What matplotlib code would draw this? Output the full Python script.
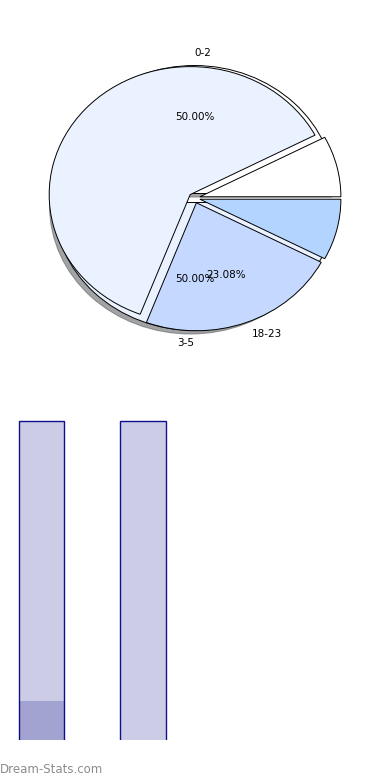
import matplotlib
matplotlib.use("Agg")
import matplotlib.pyplot as plt

# underlying two-slice pie
base_labels = ["0-2", "3-5"]
base_values = [50, 50]
base_colors = ["#FFFFFF", "#EAF2FF"]

# exploded slices drawn on top
slice_labels = ["", "", "18-23", ""]
slice_values = [1, 8, 3, 1]
slice_colors = ["#FFFFFF", "#EAF2FF", "#C5D8FF", "#B3D4FF"]

# bars
bar_pos = [0, 1]
bar_values = [8, 8]
bar_dark = [1, 0]

W, H = 390, 780
fig = plt.figure(figsize=(W / 100, H / 100), dpi=100)

# pie axes, not forced round
cx, cy = 194.4, H - 198
rx, ry = 141, 128
L = 1.35
ax = fig.add_axes([(cx - L * rx) / W, (cy - L * ry) / H, 2 * L * rx / W, 2 * L * ry / H])

edge = dict(edgecolor="black", linewidth=0.7)
txt = dict(fontsize=7.5)
_, base_texts, _ = ax.pie(base_values, labels=base_labels, colors=base_colors,
                          explode=[0.035, 0.035], autopct="%.2f%%", shadow=True,
                          startangle=0, wedgeprops=edge, textprops=txt)
# labels straight above/below the centre hang off it like the reference
base_texts[0].set_ha("left")
base_texts[1].set_ha("right")

_, _, autos = ax.pie(slice_values, labels=slice_labels, colors=slice_colors,
                     explode=[0.04] * 4, autopct="%.2f%%", startangle=0,
                     wedgeprops=edge, textprops=txt)
for lab, t in zip(slice_labels, autos):
    if not lab:
        t.set_visible(False)
ax.set_aspect("auto")
ax.set_xlim(-L, L)
ax.set_ylim(-L, L)
ax.axis("off")

# bar axes
px_unit = 101.5
x0 = 41.5
bx = fig.add_axes([0, 40 / H, 1, 339 / H])
bx.bar(bar_pos, bar_values, width=0.45, color="#CCCCE6", edgecolor="#10108C", linewidth=1)
bx.bar(bar_pos, bar_dark, width=0.45, color="#00007D", alpha=0.2, edgecolor="none")
bx.set_xlim(-x0 / px_unit, (W - x0) / px_unit)
bx.set_ylim(0.03, 8.5)
bx.axis("off")

fig.text(0.0, 4 / H, "Dream-Stats.com", fontsize=8.5, color="#8c8c8c", ha="left", va="bottom")

fig.savefig("out.png", dpi=100)
